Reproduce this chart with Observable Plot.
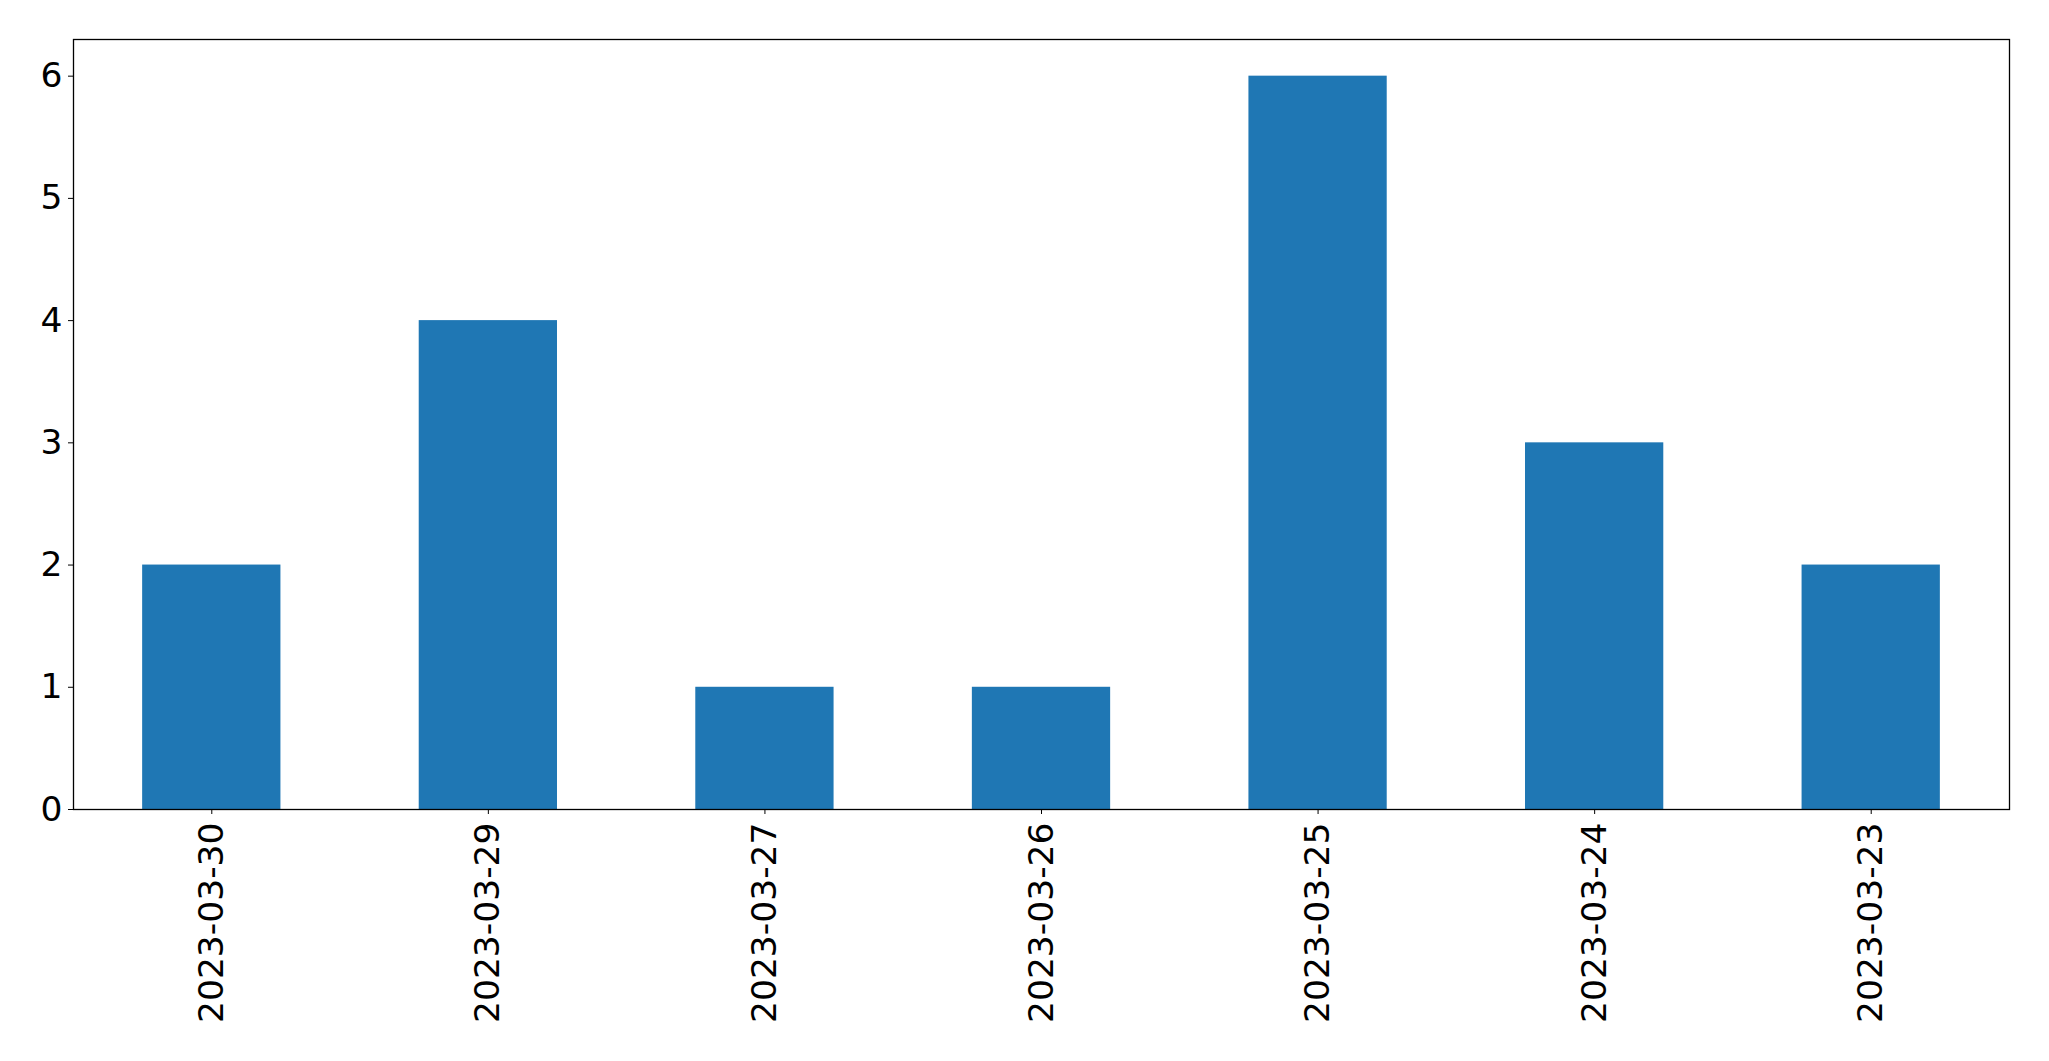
<!DOCTYPE html>
<html>
<head>
<meta charset="utf-8">
<script src="https://cdn.jsdelivr.net/npm/d3@7"></script>
<script src="https://cdn.jsdelivr.net/npm/@observablehq/plot@0.6"></script>
<style>
  html, body { margin: 0; padding: 0; background: #fff; }
  #chart svg { display: block; }
</style>
</head>
<body>
<div id="chart"></div>
<script>
const dates = ["2023-03-30", "2023-03-29", "2023-03-27", "2023-03-26", "2023-03-25", "2023-03-24", "2023-03-23"];
const counts = [2, 4, 1, 1, 6, 3, 2];
const yTicks = [0, 1, 2, 3, 4, 5, 6];

const data = dates.map((d, i) => ({date: d, count: counts[i]}));

const chart = Plot.plot({
  width: 2049,
  height: 1061,
  marginLeft: 73,
  marginRight: 40,
  marginTop: 39,
  marginBottom: 252,
  style: {fontFamily: "DejaVu Sans", fontSize: "34.5px", color: "#000", background: "#fff"},
  x: {type: "band", domain: dates, paddingInner: 0.5, paddingOuter: 0.25, round: false, label: null},
  y: {domain: [0, 6.3], label: null},
  marks: [
    Plot.barY(data, {x: "date", y: "count", fill: "#1f77b4"}),
    Plot.axisY({ticks: yTicks, tickSize: 5, tickPadding: 6, fontSize: 34.5, label: null, tickFormat: d3.format("d")}),
    Plot.axisX({tickRotate: -90, tickSize: 5, tickPadding: 8, fontSize: 34.5, label: null}),
    Plot.frame({stroke: "#000", strokeWidth: 1.3})
  ]
});
document.getElementById("chart").appendChild(chart);
</script>
</body>
</html>
